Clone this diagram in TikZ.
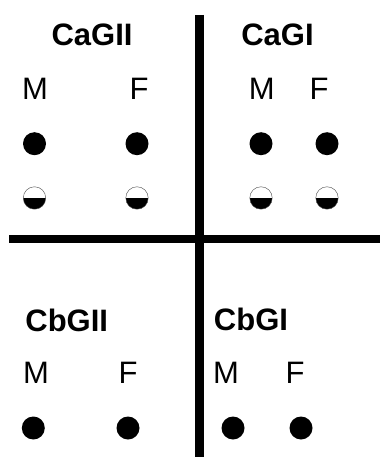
\documentclass[tikz,border=0pt]{standalone}
\usepackage{fontspec}
\setmainfont{Liberation Sans}

\begin{document}
\begin{tikzpicture}[x=1pt,y=-1pt,
  grp/.style={font=\fontsize{31}{33}\selectfont\bfseries,inner sep=0pt},
  sex/.style={font=\fontsize{31}{33}\selectfont,inner sep=0pt},
  dot/.style={circle,fill=black,minimum size=23pt,inner sep=0pt},
  halfdot/.style={circle,draw=black!70,thin,minimum size=22.5pt,inner sep=0pt,
    path picture={\fill[black] (path picture bounding box.west) rectangle (path picture bounding box.south east);}}]
\useasboundingbox (0,0) rectangle (380,457);
\draw[line width=9pt] (199.5,15) -- (199.5,457);
\draw[line width=8pt] (9,239) -- (380,239);
\node[grp] (cag2) at (92,34.5) {CaGII};
\node[sex] (cag2m) at (35,89) {M};
\node[sex] (cag2f) at (139,89) {F};
\node[dot] (cag2m1) at (34.5,143.7) {};
\node[dot] (cag2f1) at (137,143.7) {};
\node[halfdot] (cag2m2) at (34.5,198) {};
\node[halfdot] (cag2f2) at (137,198) {};
\node[grp] (cag1) at (277.5,34.5) {CaGI};
\node[sex] (cag1m) at (261.7,89) {M};
\node[sex] (cag1f) at (319,89) {F};
\node[dot] (cag1m1) at (261,143.7) {};
\node[dot] (cag1f1) at (327,143.7) {};
\node[halfdot] (cag1m2) at (261,198) {};
\node[halfdot] (cag1f2) at (327,198) {};
\node[grp] (cbg2) at (66.7,320) {CbGII};
\node[sex] (cbg2m) at (36,373) {M};
\node[sex] (cbg2f) at (128,373) {F};
\node[dot] (cbg2m1) at (33.3,428) {};
\node[dot] (cbg2f1) at (128,428) {};
\node[grp] (cbg1) at (251,319) {CbGI};
\node[sex] (cbg1m) at (226,373) {M};
\node[sex] (cbg1f) at (295,373) {F};
\node[dot] (cbg1m1) at (233,428) {};
\node[dot] (cbg1f1) at (301,428) {};
\end{tikzpicture}
\end{document}
